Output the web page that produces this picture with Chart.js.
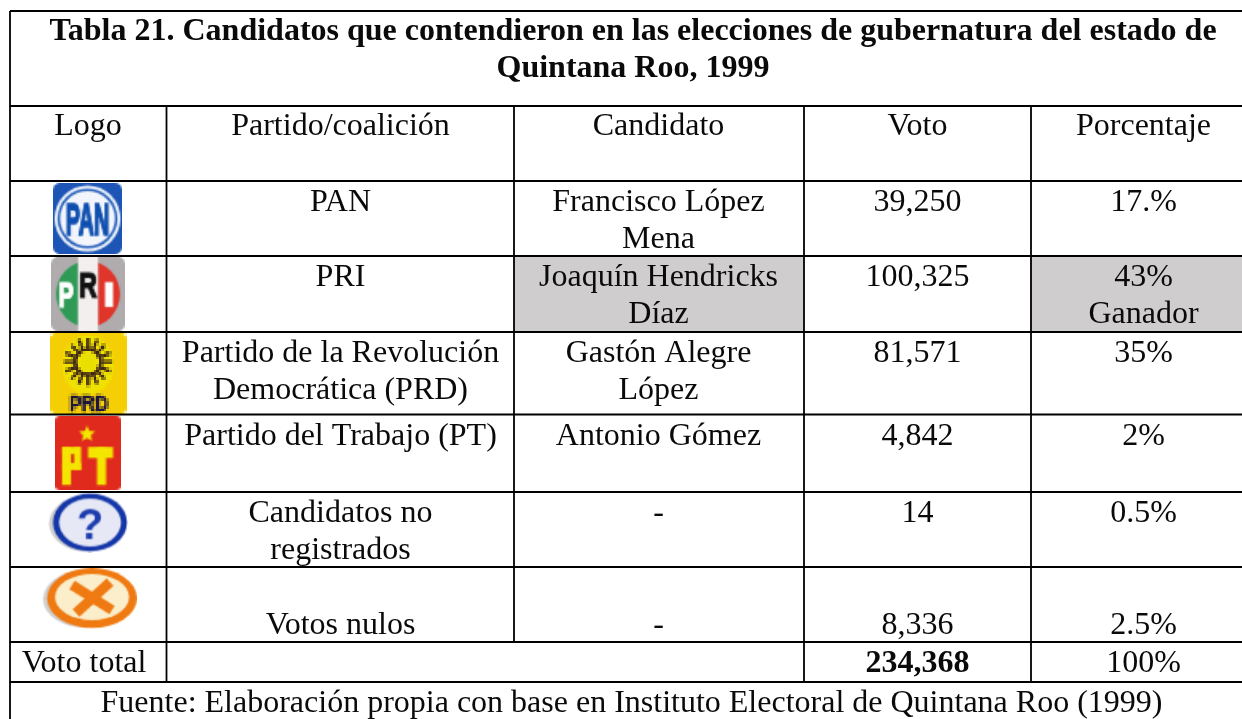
<!DOCTYPE html>
<html lang="es">
<head>
<meta charset="utf-8">
<title>Tabla 21</title>
<script src="https://cdn.jsdelivr.net/npm/chart.js@4"></script>
<style>
  html, body { margin: 0; padding: 0; background: #fff; }
  #wrap { width: 1242px; height: 719px; overflow: hidden; }
</style>
</head>
<body>
<div id="wrap"><canvas id="tabla" width="1242" height="719"></canvas></div>
<script>
/* Table content */
const titleLines = [
  "Tabla 21. Candidatos que contendieron en las elecciones de gubernatura del estado de",
  "Quintana Roo, 1999",
];
const headers = ["Logo", "Partido/coalición", "Candidato", "Voto", "Porcentaje"];
const partidos = ["PAN", "PRI", "Partido de la Revolución\nDemocrática (PRD)", "Partido del Trabajo (PT)", "Candidatos no\nregistrados", "\nVotos nulos"];
const candidatos = ["Francisco López\nMena", "Joaquín Hendricks\nDíaz", "Gastón Alegre\nLópez", "Antonio Gómez", "-", "\n-"];
const votos = [39250, 100325, 81571, 4842, 14, 8336];
const porcentajes = ["17.%", "43%\nGanador", "35%", "2%", "0.5%", "\n2.5%"];
const totalLabel = "Voto total";
const totalVotos = 234368;
const totalPorcentaje = "100%";
const fuente = "Fuente: Elaboración propia con base en Instituto Electoral de Quintana Roo (1999)";

/* Layout, in page pixels */
const colEdges = [10, 166.5, 514, 804, 1031, 1242];
const rowEdges = [11, 106, 181, 256, 332, 414.5, 492, 567, 642, 682, 719];
const colCenters = [88, 340.5, 658.5, 917.5, 1143.5];
const tableCenter = 633;
const fuenteCenter = 631.5;
const logoCenters = [[87.5, 218.5], [88, 294], [88.5, 373.5], [88, 453], [88, 522.5], [88.5, 598.5]];
const FONT_SIZE = 32;
const LINE_HEIGHT = 36.5;
const FONT = "'Liberation Serif', 'Times New Roman', serif";

/* Logos: painted small and scaled up so they keep the soft look of the scan */
function makeLogo(w, h, scale, smooth, paint) {
  const lo = document.createElement("canvas");
  lo.width = Math.round(w / scale);
  lo.height = Math.round(h / scale);
  const lc = lo.getContext("2d");
  lc.scale(lo.width / w, lo.height / h);
  paint(lc, w, h);
  const out = document.createElement("canvas");
  out.width = w;
  out.height = h;
  const oc = out.getContext("2d");
  oc.imageSmoothingEnabled = smooth;
  oc.drawImage(lo, 0, 0, w, h);
  return out;
}

function roundBox(c, x, y, w, h, r, fill) {
  c.beginPath();
  c.roundRect(x, y, w, h, r);
  c.fillStyle = fill;
  c.fill();
}

function disc(c, x, y, rx, ry, fill) {
  c.beginPath();
  c.ellipse(x, y, rx, ry, 0, 0, Math.PI * 2);
  c.fillStyle = fill;
  c.fill();
}

// squeezed capitals for the party initials
function initials(c, text, x, baseline, size, squeeze, fill, stroke) {
  c.save();
  c.translate(x, baseline);
  c.scale(squeeze, 1);
  c.fillStyle = fill;
  c.font = "bold " + size + "px 'Liberation Sans'";
  c.textAlign = "center";
  c.fillText(text, 0, 0);
  if (stroke) {
    c.strokeStyle = fill;
    c.lineWidth = stroke;
    c.strokeText(text, 0, 0);
  }
  c.restore();
}

function panLogo(c, w, h) {
  roundBox(c, 0, 0, w, h, 7, "#1c55b5");
  disc(c, w / 2, h / 2, 33, 33, "#eef3fa");
  disc(c, w / 2, h / 2, 30, 30, "#2a62bd");
  disc(c, w / 2, h / 2, 27.5, 27.5, "#f2f5fb");
  initials(c, "PAN", w / 2, h / 2 + 16, 46, 0.46, "#0f4fb0", 2.5);
}

function priLogo(c, w, h) {
  roundBox(c, 0, 0, w, h, 7, "#b0acad");
  c.save();
  c.beginPath();
  c.ellipse(w / 2, h / 2, 32, 33, 0, 0, Math.PI * 2);
  c.clip();
  c.fillStyle = "#2f9a55";
  c.fillRect(0, 0, 27, h);
  c.fillStyle = "#e0352b";
  c.fillRect(47, 0, w - 47, h);
  c.restore();
  c.fillStyle = "#f3efef";
  c.fillRect(27, 0, 20, h);
  initials(c, "P", 15, 50, 36, 0.62, "#fff", 2);
  initials(c, "R", 37, 40, 35, 0.7, "#111", 2);
  c.fillStyle = "#fff";
  c.fillRect(54, 25, 8, 25);
}

function prdLogo(c, w, h) {
  roundBox(c, 0, 0, w, h, 5, "#f5cf05");
  disc(c, 38, 32, 26, 30, "#efe100");
  const cx = 38, cy = 29;
  c.strokeStyle = "#3f2716";
  c.lineWidth = 3.4;
  for (let a = 0; a < 16; a++) {
    const t = a * Math.PI / 8;
    c.beginPath();
    c.moveTo(cx + Math.cos(t) * 11, cy + Math.sin(t) * 11);
    c.lineTo(cx + Math.cos(t) * 24, cy + Math.sin(t) * 24);
    c.stroke();
  }
  c.beginPath();
  c.arc(cx, cy, 13, 0, Math.PI * 2);
  c.stroke();
  disc(c, cx, cy, 7, 9, "#e8e000");
  initials(c, "PRD", 39, 78, 22, 0.85, "#1d1640", 1);
}

function ptLogo(c, w, h) {
  roundBox(c, 0, 0, w, h, 5, "#e02a1e");
  c.fillStyle = "#f4e600";
  c.fillRect(7, 31, 9, 38);
  c.fillRect(7, 31, 18, 7);
  c.fillRect(19, 31, 7, 23);
  c.fillRect(7, 47, 19, 7);
  c.fillRect(33, 31, 25, 11);
  c.fillRect(42, 31, 9, 38);
  c.beginPath();
  for (let i = 0; i < 10; i++) {
    const r = i % 2 ? 4 : 8.5;
    const t = -Math.PI / 2 + i * Math.PI / 5;
    c.lineTo(32 + Math.cos(t) * r, 18 + Math.sin(t) * r);
  }
  c.closePath();
  c.fill();
}

function questionLogo(c, w, h) {
  disc(c, 38, 31, 37, 28, "#cfcfcf");
  disc(c, 42, 30, 37, 29, "#1436a8");
  disc(c, 42, 30, 31, 24, "#e6e8f6");
  c.fillStyle = "#1d3cae";
  c.font = "bold 44px 'Liberation Sans'";
  c.textAlign = "center";
  c.fillText("?", 42, 46);
}

function nuloLogo(c, w, h) {
  disc(c, 46, 31, 43, 29, "#cfcfcf");
  disc(c, 52, 30, 45, 30, "#f07a12");
  disc(c, 52, 29, 37, 23, "#fbeecb");
  c.strokeStyle = "#f07a12";
  c.lineWidth = 10;
  c.beginPath();
  c.moveTo(32, 17);
  c.lineTo(72, 42);
  c.moveTo(70, 14);
  c.lineTo(36, 45);
  c.stroke();
}

const logoImages = [
  makeLogo(69, 71, 1.6, true, panLogo),
  makeLogo(74, 74, 1.6, true, priLogo),
  makeLogo(77, 81, 2.6, false, prdLogo),
  makeLogo(66, 74, 1.8, true, ptLogo),
  makeLogo(80, 60, 1.5, true, questionLogo),
  makeLogo(97, 61, 1.5, true, nuloLogo),
];

/* Datasets built from the layout arrays */
function rule(x0, y0, x1, y1) {
  return {
    data: [{ x: x0, y: y0 }, { x: x1, y: y1 }],
    borderColor: "#000",
    borderWidth: 1.8,
    pointRadius: 0,
    fill: false,
  };
}

function shadedCell(col, row) {
  const x0 = colEdges[col], x1 = colEdges[col + 1], y0 = rowEdges[row], y1 = rowEdges[row + 1];
  return {
    data: [{ x: x0, y: y0 }, { x: x1, y: y0 }, { x: x1, y: y1 }, { x: x0, y: y1 }, { x: x0, y: y0 }],
    borderWidth: 0,
    pointRadius: 0,
    backgroundColor: "#cfcdce",
    fill: "shape",
  };
}

const rules = [];
// horizontals run full width, left border full height
rowEdges.slice(0, -1).forEach(y => rules.push(rule(colEdges[0], y, colEdges[5], y)));
rules.push(rule(colEdges[0], rowEdges[0], colEdges[0], rowEdges[10]));
// inner verticals stop at the total row, except where the total row needs them
rules.push(rule(colEdges[1], rowEdges[1], colEdges[1], rowEdges[9]));
rules.push(rule(colEdges[2], rowEdges[1], colEdges[2], rowEdges[8]));
rules.push(rule(colEdges[3], rowEdges[1], colEdges[3], rowEdges[9]));
rules.push(rule(colEdges[4], rowEdges[1], colEdges[4], rowEdges[9]));

const logoDataset = {
  data: logoCenters.map(p => ({ x: p[0], y: p[1] })),
  showLine: false,
  pointStyle: logoImages,
  pointRadius: 20,
  borderWidth: 0,
};

/* All the table text goes through the scales as well */
const tableText = {
  id: "tableText",
  afterDatasetsDraw(chart) {
    const c = chart.ctx, sx = chart.scales.x, sy = chart.scales.y;
    c.save();
    c.fillStyle = "#0a0a0a";
    c.textAlign = "center";
    c.textBaseline = "alphabetic";
    const put = (text, x, rowTop, bold) => {
      c.font = (bold ? "bold " : "") + FONT_SIZE + "px " + FONT;
      String(text).split("\n").forEach((line, i) => {
        if (line) c.fillText(line, sx.getPixelForValue(x), sy.getPixelForValue(rowTop + 30 + i * LINE_HEIGHT));
      });
    };
    put(titleLines[0], tableCenter, rowEdges[0] - 1, true);
    put(titleLines[1], tableCenter, rowEdges[0] + 35.5, true);
    headers.forEach((h, i) => put(h, colCenters[i], rowEdges[1] - 1, false));
    partidos.forEach((p, i) => {
      const top = rowEdges[i + 2];
      put(p, colCenters[1], top, false);
      put(candidatos[i], colCenters[2], top, false);
      const blank = String(partidos[i]).startsWith("\n") ? "\n" : "";
      put(blank + votos[i].toLocaleString("en-US"), colCenters[3], top, false);
      put(porcentajes[i], colCenters[4], top, false);
    });
    put(totalLabel, colCenters[0] - 4, rowEdges[8], false);
    put(totalVotos.toLocaleString("en-US"), colCenters[3], rowEdges[8], true);
    put(totalPorcentaje, colCenters[4], rowEdges[8], false);
    put(fuente, fuenteCenter, rowEdges[9], false);
    c.restore();
  },
};

new Chart(document.getElementById("tabla"), {
  type: "line",
  data: {
    datasets: [
      ...rules,
      logoDataset,
      shadedCell(2, 3),
      shadedCell(4, 3),
    ],
  },
  options: {
    responsive: false,
    animation: false,
    parsing: false,
    layout: { padding: 0, autoPadding: false },
    plugins: { legend: { display: false }, tooltip: { enabled: false }, title: { display: false } },
    scales: {
      x: { type: "linear", min: 0, max: 1242, display: false },
      y: { type: "linear", min: 0, max: 719, reverse: true, display: false },
    },
  },
  plugins: [tableText],
});
</script>
</body>
</html>
